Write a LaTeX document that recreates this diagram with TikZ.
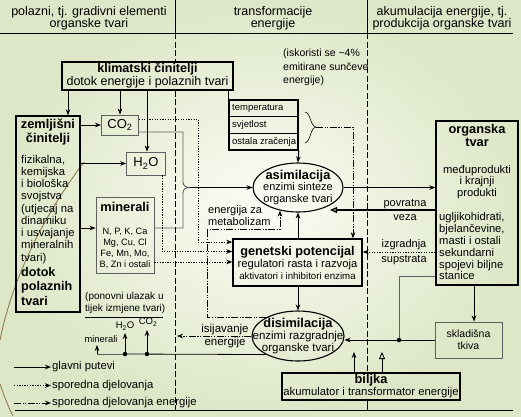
\documentclass[tikz,border=0pt]{standalone}
\usepackage{fontspec}
\setmainfont{Liberation Sans}
\usetikzlibrary{arrows.meta,shapes.geometric}
\newcommand{\fsz}[2]{\fontsize{#1}{#2}\selectfont}
\definecolor{bginner}{RGB}{251,252,245}
\definecolor{bgouter}{RGB}{221,231,199}
\definecolor{decoline}{RGB}{140,112,70}
\definecolor{boxgrey}{RGB}{95,95,95}
\begin{document}
\begin{tikzpicture}[x=1pt,y=-1pt,
  thickbox/.style={draw, line width=1.5pt, inner sep=0pt},
  greybox/.style={draw=boxgrey, line width=0.9pt, inner sep=0pt},
  arr/.style={-{Stealth[length=6pt,width=4.6pt]}, line width=0.8pt},
  dotline/.style={line width=0.8pt, dash pattern=on 1.3pt off 1.3pt},
  dotarr/.style={arr, dotline},
  enline/.style={line width=0.8pt, dash pattern=on 7pt off 1.5pt on 1.2pt off 1.5pt on 1.2pt off 1.5pt},
  enarr/.style={arr, enline},
  sepline/.style={line width=0.8pt, dash pattern=on 6pt off 2.5pt},
  greyline/.style={draw=boxgrey, line width=0.9pt},
  openarr/.style={-{Triangle[open,length=7pt,width=6pt]}},
  txt/.style={inner sep=0pt, align=center},
  ltxt/.style={inner sep=0pt, align=left},
  jdot/.style={circle, fill, inner sep=0pt, minimum size=4.5pt},
]
\useasboundingbox (0,0) rectangle (521,416);
\shade[inner color=bginner, outer color=bgouter] (0,0) rectangle (521,416);
\draw[decoline, line width=0.8pt] (84,162) .. controls (42,218) and (12,280) .. (0,340);
\draw[decoline, line width=0.8pt] (0,384) .. controls (4,396) and (8,406) .. (13,416);

% header
\node[txt, anchor=north, font=\fsz{12.5}{12}] (h1) at (89,6) {polazni, tj. gradivni elementi\\organske tvari};
\node[txt, anchor=north, font=\fsz{12.5}{12}] (h2) at (273,6) {transformacije\\energije};
\node[txt, anchor=north, font=\fsz{12.5}{12}] (h3) at (442,6) {akumulacija energije, tj.\\produkcija organske tvari};
\coordinate (hl) at (0,33); \coordinate (hr) at (513,33);
\draw[line width=0.8pt] (hl) -- (hr);
\draw[line width=0.8pt] (175,0) -- (175,33);
\draw[line width=0.8pt] (367,0) -- (367,33);

% left column
\node[thickbox, minimum width=171pt, minimum height=28pt] (klim) at (147.5,76) {};
\node[txt, font=\fsz{12.5}{13}] (klimT) at (klim.center) {\textbf{klimatski činitelji}\\dotok energije i polaznih tvari};
\node[thickbox, minimum width=64pt, minimum height=196pt] (zem) at (48,214) {};
\node[txt, anchor=north, font=\fsz{12.8}{14}\bfseries] (zemT1) at (48,119) {zemljišni\\činitelji};
\node[ltxt, anchor=north west, font=\fsz{11.3}{12.25}] (zemT2) at (21,154.7) {fizikalna,\\kemijska\\i biološka\\svojstva\\(utjecaj na\\dinamiku\\i usvajanje\\mineralnih\\tvari)};
\node[ltxt, anchor=north west, font=\fsz{12.6}{14.5}\bfseries] (zemT3) at (21,267) {dotok\\polaznih\\tvari};
\node[greybox, minimum width=37pt, minimum height=20pt, font=\fsz{13}{14}] (co2) at (120,125) {CO\textsubscript{2}};
\node[greybox, minimum width=39pt, minimum height=23pt, font=\fsz{13}{14}] (h2o) at (146,163.5) {H\textsubscript{2}O};
\node[greybox, minimum width=58pt, minimum height=76pt] (mnr) at (125,235) {};
\node[txt, anchor=north, font=\fsz{12.8}{13}\bfseries] (mnrT1) at (125,202) {minerali};
\node[txt, anchor=north, font=\fsz{9.2}{11}] (mnrT2) at (125,227.7) {N, P, K, Ca\\Mg, Cu, Cl\\Fe, Mn, Mo,\\B, Zn i ostali};

\draw[arr] (68,0 |- klim.south) -- (68,0 |- zem.north);
\draw[arr] (co2.north |- klim.south) -- (co2.north);
\draw[arr] (147,0 |- klim.south) -- (147,0 |- h2o.north);
\draw[arr] (zem.east |- co2.west) -- (co2.west);
\draw[arr] (zem.east |- h2o.west) -- (h2o.west);
\draw[arr] (zem.east |- 0,228) -- (mnr.west |- 0,228);

% middle column
\node[ltxt, anchor=north west, font=\fsz{10.5}{13.5}] (isk) at (283,49) {(iskoristi se \textasciitilde 4\%\\emitirane sunčeve\\energije)};
\node[draw, line width=1.5pt, minimum width=69pt, minimum height=50pt, inner sep=0pt] (tab) at (263.5,125) {};
\draw[line width=0.6pt] (tab.west |- 0,116.7) -- (tab.east |- 0,116.7);
\draw[line width=0.6pt] (tab.west |- 0,133.3) -- (tab.east |- 0,133.3);
\node[anchor=west, inner sep=0pt, font=\fsz{9.5}{10}] (tab1) at (232,108.5) {temperatura};
\node[anchor=west, inner sep=0pt, font=\fsz{9.5}{10}] (tab2) at (232,125) {svjetlost};
\node[anchor=west, inner sep=0pt, font=\fsz{9.5}{10}] (tab3) at (232,141.7) {ostala zračenja};
\draw[line width=1.5pt] (tab.north west) -- (tab.north west |- klim.south);

\node[draw, ellipse, line width=1.1pt, minimum width=90pt, minimum height=49pt, inner sep=0pt] (asim) at (298,187.5) {};
\node[txt, font=\fsz{11}{11.5}] (asimT) at (298,187) {{\fsz{12.8}{12}\bfseries asimilacija}\\enzimi sinteze\\organske tvari};
\draw[arr, line width=1.2pt] (tab.south east) -- (asim.north);

\coordinate (brR) at (316,127);
\draw[line width=0.6pt] (305,112) .. controls (311,113) and (310,126) .. (brR) .. controls (310,128) and (311,141) .. (305,143);

\node[thickbox, minimum width=129pt, minimum height=47pt] (gen) at (297.5,262.5) {};
\node[txt, font=\fsz{11.2}{12}] (genT) at (gen.center) {{\fsz{12.7}{12}\bfseries genetski potencijal}\\regulatori rasta i razvoja\\{\fsz{9.7}{11}aktivatori i inhibitori enzima}};
\draw[enarr] (brR) -- (353,127) -- (353,0 |- gen.north);

\coordinate (brL) at (190,187.5);
\draw[greyline] (co2.east |- 0,132) -- (183,132) -- (183,182) .. controls (183,186) and (186,187.5) .. (brL) .. controls (186,187.5) and (183,189) .. (183,193) -- (183,228) -- (mnr.east |- 0,228);
\draw[arr] (brL) -- (asim.west);

\draw[dotarr] (co2.east |- 0,119) -- (198,119) -- (198,242) -- (gen.west |- 0,242);
\draw[dotarr] (162,0 |- h2o.south) -- (162,251.5) -- (gen.west |- 0,251.5);
\draw[dotarr] (mnr.east |- 0,262) -- (gen.west |- 0,262);

\node[draw, ellipse, line width=1.1pt, minimum width=92pt, minimum height=50pt, inner sep=0pt] (dis) at (298,336) {};
\node[txt, font=\fsz{11.5}{12.2}] (disT) at (298,336) {{\fsz{12.8}{12}\bfseries disimilacija}\\enzimi razgradnje\\organske tvari};

\draw[arr] (asim.south |- gen.north) -- (asim.south);
\draw[arr] (asim.south |- gen.south) -- (dis.north);

\draw[enarr] (dis.150) -- (207,0 |- dis.150) -- (207,229) -- (280,229) -- (280,210.5);
\node[ltxt, anchor=north west, font=\fsz{11}{12}] (enm) at (208,205.8) {energija za\\metabolizam};

\draw[enarr] (dis.west) -- (177,0 |- dis.west);
\node[txt, font=\fsz{11.5}{13}] (isij) at (225,336.5) {isijavanje\\energije};

% re-entry
\coordinate (b0) at (97,354); \coordinate (bH) at (125,354); \coordinate (bC) at (147,354);
\draw[line width=0.8pt] (dis.210) -- (bH);
\draw[greyline] (bH) -- (b0);
\draw[arr] (b0) -- (97,345);
\node[jdot] (dH) at (bH) {};
\node[jdot] (dC) at (bC) {};
\draw[arr] (dH) -- (125,333);
\draw[arr] (dC) -- (147,330);
\node[txt, font=\fsz{9.5}{10}] (lH) at (125,326) {H\textsubscript{2}O};
\node[txt, font=\fsz{9.5}{10}] (lC) at (148,322) {CO\textsubscript{2}};
\node[txt, font=\fsz{9.4}{10}] (lM) at (101,339) {minerali};
\node[ltxt, anchor=north west, font=\fsz{10}{11.5}] (pon) at (85,292.3) {(ponovni ulazak u\\tijek izmjene tvari)};
\draw[line width=0.8pt] (pon.south west |- 0,317) -- (163,317);

% right column
\node[thickbox, minimum width=82pt, minimum height=164pt] (org) at (477,203) {};
\node[txt, anchor=north, font=\fsz{12.8}{13}\bfseries] (orgT1) at (477,124) {organska\\tvar};
\node[txt, anchor=north, font=\fsz{11.2}{11.5}] (orgT2) at (477,164.8) {međuprodukti\\i krajnji\\produkti};
\node[ltxt, anchor=north west, font=\fsz{11.2}{11.8}] (orgT3) at (439,212.6) {ugljikohidrati,\\bjelančevine,\\masti i ostali\\sekundarni\\spojevi biljne\\stanice};

\draw[arr] (asim.east) -- (org.west |- asim.east);
\draw[line width=1.3pt, openarr] (org.west |- 0,210) -- (330,210);
\node[txt, font=\fsz{11}{14}] (pov) at (405,210) {povratna\\veza};
\draw[dotarr] (org.west |- 0,252) -- (gen.east |- 0,252);
\node[txt, font=\fsz{11}{15}] (izg) at (404,252) {izgradnja\\supstrata};

\node[greybox, minimum width=67pt, minimum height=36pt, font=\fsz{10.5}{12}, align=center] (skl) at (468.5,340) {skladišna\\tkiva};
\draw[arr] (474,0 |- org.south) -- (474,0 |- skl.north);
\coordinate (jn) at (399,340);
\draw[arr] (skl.west) -- (dis.east |- skl.west);
\draw[greyline] (org.west |- 0,276) -- (399,276) -- (jn);
\node[jdot] (jnd) at (jn) {};

\node[thickbox, minimum width=178pt, minimum height=27pt] (bil) at (371,386.5) {};
\node[txt, font=\fsz{11.3}{12}] (bilT) at (bil.center) {{\fsz{12.8}{12}\bfseries biljka}\\akumulator i transformator energije};
\draw[arr] (354,0 |- bil.north) -- (354,352);
\draw[line width=0.8pt, openarr] (382,0 |- bil.north) -- (382,352);

% separators
\draw[sepline] (175,33) -- (175,0 |- klim.north);
\draw[sepline] (175,0 |- klim.south) -- (175,410);
\draw[sepline] (367,33) -- (367,0 |- bil.north);
\draw[line width=0.8pt] (367,0 |- bil.south) -- (367,410);
\coordinate (fl) at (15,410); \coordinate (fr) at (513,410);
\draw[line width=0.8pt] (fl) -- (fr);

% legend
\coordinate (L1a) at (14,367); \coordinate (L1b) at (51,367);
\coordinate (L2a) at (14,385.5); \coordinate (L2b) at (51,385.5);
\coordinate (L3a) at (14,403); \coordinate (L3b) at (51,403);
\draw[arr] (L1a) -- (L1b);
\draw[dotarr] (L2a) -- (L2b);
\draw[enarr] (L3a) -- (L3b);
\node[anchor=west, inner sep=0pt, font=\fsz{11.3}{12}] (L1) at (52,367) {glavni putevi};
\node[anchor=west, inner sep=0pt, font=\fsz{11.3}{12}] (L2) at (52,385.5) {sporedna djelovanja};
\node[anchor=west, inner sep=0pt, font=\fsz{11.3}{12}] (L3) at (52,403) {sporedna djelovanja energije};
\end{tikzpicture}
\end{document}
